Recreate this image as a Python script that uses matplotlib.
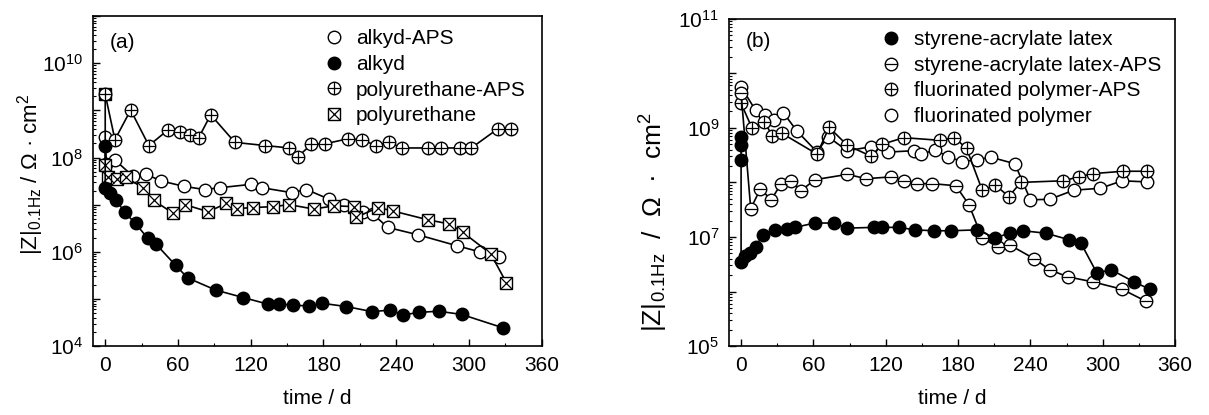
import numpy as np
import matplotlib
matplotlib.use("Agg")
import matplotlib.pyplot as plt
from matplotlib.lines import Line2D
from matplotlib.ticker import LogLocator, FuncFormatter, MultipleLocator, NullFormatter

plt.rcParams['font.family'] = ['Liberation Sans', 'DejaVu Sans']
plt.rcParams['mathtext.fontset'] = 'custom'
plt.rcParams['mathtext.rm'] = 'Liberation Sans'
plt.rcParams['mathtext.it'] = 'Liberation Sans:italic'
plt.rcParams['mathtext.default'] = 'regular'

# ---- panel (a) data: time / d and |Z| at 0.1 Hz / ohm cm2
alkyd_aps_t = [0, 1, 8, 23, 34, 46, 65, 82, 95, 120, 129, 154, 166, 185, 197, 213, 221, 233, 258, 290, 309, 325]
alkyd_aps_z = [2.7e8, 7.4e7, 8.9e7, 4.0e7, 4.4e7, 3.2e7, 2.45e7, 2.1e7, 2.3e7, 2.7e7, 2.3e7, 1.8e7, 2.1e7,
               1.3e7, 9.8e6, 6.9e6, 6.3e6, 3.3e6, 2.3e6, 1.35e6, 1.0e6, 7.8e5]

alkyd_t = [0, 0, 4, 9, 16, 25, 35, 42, 58, 68, 91, 114, 134, 143, 155, 168, 179, 199, 220, 235, 246, 259, 275, 294, 328]
alkyd_z = [1.8e8, 2.3e7, 1.8e7, 1.26e7, 6.9e6, 4.0e6, 1.95e6, 1.45e6, 5.2e5, 2.8e5, 1.55e5, 1.07e5, 7.8e4,
           7.8e4, 7.4e4, 7.1e4, 8.1e4, 6.9e4, 5.4e4, 5.8e4, 4.6e4, 5.2e4, 5.5e4, 4.7e4, 2.45e4]

pu_aps_t = [0, 8, 21, 36, 52, 62, 70, 77, 87, 107, 132, 152, 159, 170, 181, 200, 212, 223, 234, 245, 266, 277,
            293, 302, 324, 335]
pu_aps_z = [2.2e9, 2.4e8, 1.02e9, 1.8e8, 3.9e8, 3.5e8, 2.95e8, 2.6e8, 8.1e8, 2.1e8, 1.8e8, 1.6e8, 1.05e8,
            1.9e8, 1.95e8, 2.5e8, 2.4e8, 1.8e8, 2.1e8, 1.6e8, 1.6e8, 1.6e8, 1.6e8, 1.6e8, 4.1e8, 4.1e8]

pu_t = [0, 0, 2, 10, 17, 31, 40, 56, 66, 85, 100, 109, 122, 138, 152, 172, 189, 205, 207, 225, 237, 266, 284,
        295, 318, 331]
pu_z = [2.2e9, 7.1e7, 3.8e7, 3.5e7, 3.8e7, 2.3e7, 1.23e7, 6.6e6, 1.0e7, 7.1e6, 1.07e7, 8.3e6, 8.7e6, 9.1e6,
        1.0e7, 8.1e6, 9.5e6, 9.1e6, 5.4e6, 8.7e6, 7.4e6, 4.8e6, 3.9e6, 2.6e6, 9.1e5, 2.2e5]

# ---- panel (b) data
latex_t = [0, 0, 0, 0, 3, 7, 12, 18, 28, 38, 45, 61, 77, 88, 110, 117, 131, 144, 160, 174, 196, 211, 223, 234,
           253, 272, 282, 295, 307, 326, 339]
latex_z = [6.9e8, 4.8e8, 2.6e8, 3.5e6, 4.4e6, 5.0e6, 6.5e6, 1.1e7, 1.35e7, 1.38e7, 1.5e7, 1.8e7, 1.8e7, 1.45e7,
           1.5e7, 1.5e7, 1.5e7, 1.35e7, 1.3e7, 1.3e7, 1.35e7, 9.5e6, 1.2e7, 1.3e7, 1.17e7, 8.9e6, 7.6e6,
           2.2e6, 2.5e6, 1.5e6, 1.1e6]

latex_aps_t = [0, 8, 16, 25, 33, 41, 50, 61, 88, 104, 124, 135, 146, 158, 178, 189, 200, 213, 223, 243, 256,
               271, 292, 316, 336]
latex_aps_z = [4.3e9, 3.3e7, 7.6e7, 4.8e7, 9.3e7, 1.07e8, 7.1e7, 1.12e8, 1.4e8, 1.17e8, 1.26e8, 1.07e8, 9.5e7,
               9.5e7, 8.7e7, 3.9e7, 9.5e6, 6.6e6, 7.1e6, 4.0e6, 2.5e6, 1.86e6, 1.5e6, 1.1e6, 6.6e5]

fp_aps_t = [0, 9, 19, 26, 34, 63, 73, 88, 108, 117, 135, 165, 177, 187, 200, 211, 222, 232, 267, 280, 292,
            317, 337]
fp_aps_z = [2.8e9, 1.0e9, 1.3e9, 7.2e8, 7.9e8, 3.3e8, 1.02e9, 4.8e8, 3.0e8, 5.0e8, 6.6e8, 5.9e8, 6.6e8, 4.2e8,
            7.2e7, 8.9e7, 5.5e7, 1.0e8, 1.07e8, 1.26e8, 1.45e8, 1.6e8, 1.6e8]

fp_t = [0, 12, 20, 27, 35, 46, 63, 72, 88, 108, 122, 143, 149, 161, 172, 183, 196, 207, 227, 240, 256, 276,
        298, 316, 337]
fp_z = [5.6e9, 2.1e9, 1.7e9, 1.38e9, 1.9e9, 8.9e8, 3.6e8, 6.9e8, 3.8e8, 4.5e8, 3.6e8, 3.8e8, 3.3e8, 3.9e8,
        2.95e8, 2.4e8, 2.6e8, 2.9e8, 2.2e8, 4.8e7, 4.9e7, 7.2e7, 7.8e7, 1.07e8, 1.02e8]

MS = 9


def marker_style(kind):
    # base marker, face colour, overlay marker
    if kind == 'filled':
        return 'o', 'k', None
    if kind == 'open':
        return 'o', 'white', None
    if kind == 'plus':
        return 'o', 'white', '+'
    if kind == 'minus':
        return 'o', 'white', '_'
    return 's', 'white', 'x'


def draw(ax, t, z, kind, zo):
    base, face, over = marker_style(kind)
    ax.plot(t, z, color='k', lw=1.2, marker=base, ms=MS, mfc=face, mec='k', mew=1.0, zorder=zo)
    if over:
        ax.plot(t, z, ls='none', marker=over, ms=MS * 0.95, mew=0.9, color='k', zorder=zo + 0.1)


def proxy(kind):
    base, face, over = marker_style(kind)
    h = Line2D([], [], ls='none', marker=base, ms=MS, mfc=face, mec='k', mew=1.0)
    if over:
        o = Line2D([], [], ls='none', marker=over, ms=MS * 0.95, mew=0.9, color='k')
        return (h, o)
    return h


def style_axes(ax, ymin, ymax, label_decades):
    ax.set_yscale('log')
    ax.set_xlim(-10, 360)
    ax.set_ylim(ymin, ymax)
    ax.xaxis.set_major_locator(MultipleLocator(60))
    ax.xaxis.set_minor_locator(MultipleLocator(30))
    ax.yaxis.set_major_locator(LogLocator(base=10, numticks=20))
    ax.yaxis.set_minor_locator(LogLocator(base=10, subs=np.arange(2, 10), numticks=20))
    ax.yaxis.set_minor_formatter(NullFormatter())

    def fmt(v, pos):
        e = int(round(np.log10(v)))
        return r'$10^{%d}$' % e if e in label_decades else ''
    ax.yaxis.set_major_formatter(FuncFormatter(fmt))
    ax.tick_params(which='both', direction='in', labelsize=15, top=False, right=False)
    ax.tick_params(which='major', length=5, width=1.0, pad=7)
    ax.tick_params(which='minor', length=2.5, width=0.8)
    for s in ax.spines.values():
        s.set_linewidth(1.2)
    ax.set_xlabel('time / d', fontsize=15, labelpad=10)


fig = plt.figure(figsize=(12.09, 4.15), dpi=100)
ax1 = fig.add_axes([0.077, 0.166, 0.371, 0.795])
ax2 = fig.add_axes([0.603, 0.166, 0.369, 0.789])

# panel (a)
draw(ax1, alkyd_aps_t, alkyd_aps_z, 'open', 2)
draw(ax1, pu_t, pu_z, 'xsq', 3)
draw(ax1, pu_aps_t, pu_aps_z, 'plus', 4)
draw(ax1, alkyd_t, alkyd_z, 'filled', 5)
style_axes(ax1, 1e4, 1e11, [4, 6, 8, 10])
ax1.set_ylabel(r'$|Z|_{0.1Hz}$ / Ω · cm$^2$', fontsize=16)
ax1.yaxis.set_label_coords(-0.105, 0.52)
ax1.text(0.065, 0.92, '(a)', transform=ax1.transAxes, fontsize=15, ha='center', va='center')
ax1.legend([proxy('open'), proxy('filled'), proxy('plus'), proxy('xsq')],
           ['alkyd-APS', 'alkyd', 'polyurethane-APS', 'polyurethane'],
           loc='upper left', bbox_to_anchor=(0.514, 0.96), frameon=False, fontsize=15,
           handlelength=1.0, handletextpad=0.55, labelspacing=0.32, borderpad=0, borderaxespad=0)

# panel (b)
draw(ax2, fp_t, fp_z, 'open', 2)
draw(ax2, fp_aps_t, fp_aps_z, 'plus', 3)
draw(ax2, latex_aps_t, latex_aps_z, 'minus', 4)
draw(ax2, latex_t, latex_z, 'filled', 5)
style_axes(ax2, 1e5, 1e11, [5, 7, 9, 11])
ax2.set_ylabel(r'$|Z|_{0.1Hz}$  /  Ω  ·  cm$^2$', fontsize=19)
ax2.yaxis.set_label_coords(-0.132, 0.38)
ax2.text(0.065, 0.93, '(b)', transform=ax2.transAxes, fontsize=15, ha='center', va='center')
ax2.legend([proxy('filled'), proxy('minus'), proxy('plus'), proxy('open')],
           ['styrene-acrylate latex', 'styrene-acrylate latex-APS', 'fluorinated polymer-APS',
            'fluorinated polymer'],
           loc='upper left', bbox_to_anchor=(0.34, 0.965), frameon=False, fontsize=15,
           handlelength=1.0, handletextpad=0.6, labelspacing=0.32, borderpad=0, borderaxespad=0)

fig.savefig('out.png', dpi=100)
